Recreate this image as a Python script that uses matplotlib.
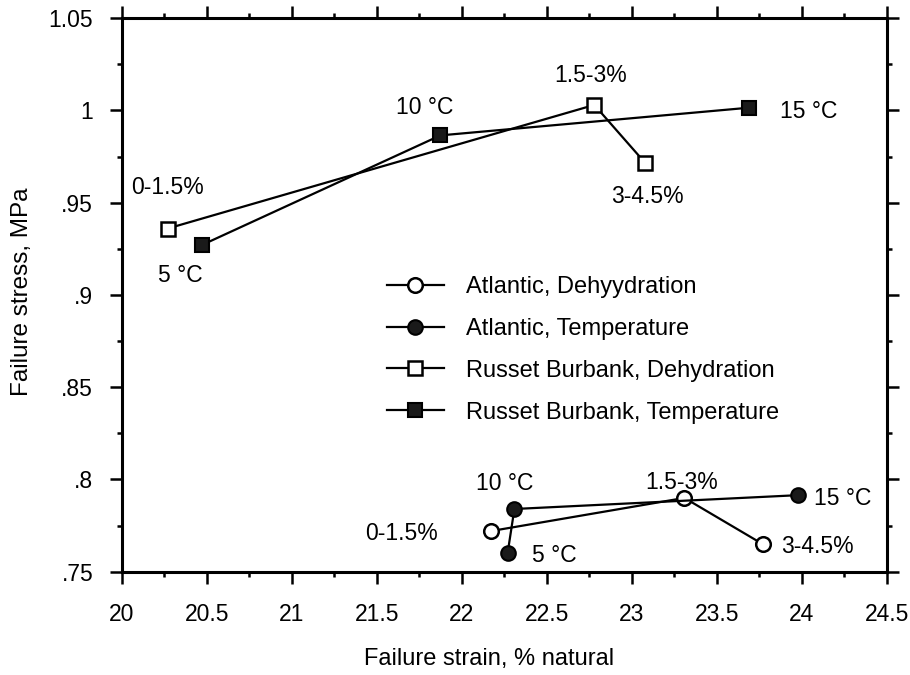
import matplotlib
matplotlib.use("Agg")
import matplotlib.pyplot as plt
from matplotlib.ticker import MultipleLocator, FuncFormatter

plt.rcParams['font.family'] = ['Liberation Sans', 'DejaVu Sans']

# Data
atl_dehy_x = [22.17, 23.31, 23.77]
atl_dehy_y = [0.772, 0.790, 0.765]
atl_dehy_lbl = ["0-1.5%", "1.5-3%", "3-4.5%"]

atl_temp_x = [22.27, 22.31, 23.98]
atl_temp_y = [0.760, 0.784, 0.7915]
atl_temp_lbl = ["5 °C", "10 °C", "15 °C"]

rb_dehy_x = [20.27, 22.78, 23.08]
rb_dehy_y = [0.936, 1.003, 0.9715]
rb_dehy_lbl = ["0-1.5%", "1.5-3%", "3-4.5%"]

rb_temp_x = [20.47, 21.875, 23.69]
rb_temp_y = [0.927, 0.9865, 1.0015]
rb_temp_lbl = ["5 °C", "10 °C", "15 °C"]

series_names = ["Atlantic, Dehyydration", "Atlantic, Temperature",
                "Russet Burbank, Dehydration", "Russet Burbank, Temperature"]

fig = plt.figure(figsize=(9.1, 6.75), dpi=100)
ax = fig.add_axes([0.1337, 0.153, 0.8407, 0.820])

lw = 1.6
ms = 10.5
ax.plot(atl_dehy_x, atl_dehy_y, '-o', color='black', lw=lw, ms=ms, mfc='white', mec='black', mew=1.8, label=series_names[0])
ax.plot(atl_temp_x, atl_temp_y, '-o', color='black', lw=lw, ms=ms, mfc='#1a1a1a', mec='black', mew=1.5, label=series_names[1])
ax.plot(rb_dehy_x, rb_dehy_y, '-s', color='black', lw=lw, ms=ms, mfc='white', mec='black', mew=1.8, label=series_names[2])
ax.plot(rb_temp_x, rb_temp_y, '-s', color='black', lw=lw, ms=ms, mfc='#1a1a1a', mec='black', mew=1.5, label=series_names[3])

fs = 16.5
# Russet Burbank labels
ax.text(20.27, 0.958, rb_dehy_lbl[0], fontsize=fs, ha='center', va='center')
ax.text(22.76, 1.0192, rb_dehy_lbl[1], fontsize=fs, ha='center', va='center')
ax.text(23.09, 0.9533, rb_dehy_lbl[2], fontsize=fs, ha='center', va='center')
ax.text(20.345, 0.9108, rb_temp_lbl[0], fontsize=fs, ha='center', va='center')
ax.text(21.78, 1.0015, rb_temp_lbl[1], fontsize=fs, ha='center', va='center')
ax.text(23.875, 0.9993, rb_temp_lbl[2], fontsize=fs, ha='left', va='center')
# Atlantic labels
ax.text(21.86, 0.7707, atl_dehy_lbl[0], fontsize=fs, ha='right', va='center')
ax.text(23.296, 0.7986, atl_dehy_lbl[1], fontsize=fs, ha='center', va='center')
ax.text(23.876, 0.7637, atl_dehy_lbl[2], fontsize=fs, ha='left', va='center')
ax.text(22.411, 0.759, atl_temp_lbl[0], fontsize=fs, ha='left', va='center')
ax.text(22.253, 0.7977, atl_temp_lbl[1], fontsize=fs, ha='center', va='center')
ax.text(24.073, 0.7897, atl_temp_lbl[2], fontsize=fs, ha='left', va='center')

ax.set_xlim(20, 24.5)
ax.set_ylim(0.75, 1.05)
ax.xaxis.set_major_locator(MultipleLocator(0.5))
ax.xaxis.set_minor_locator(MultipleLocator(0.25))
ax.yaxis.set_major_locator(MultipleLocator(0.05))
ax.yaxis.set_minor_locator(MultipleLocator(0.025))

def xfmt(v, p):
    s = f"{v:.1f}"
    return s[:-2] if s.endswith(".0") else s

def yfmt(v, p):
    s = f"{v:.2f}".rstrip('0').rstrip('.')
    if s.startswith("0."):
        s = s[1:]
    return s

ax.xaxis.set_major_formatter(FuncFormatter(xfmt))
ax.yaxis.set_major_formatter(FuncFormatter(yfmt))

ax.tick_params(which='both', direction='out', top=True, right=True,
               labeltop=False, labelright=False, width=1.8, labelsize=16.5, colors='black')
ax.tick_params(which='major', length=8.5)
ax.tick_params(which='minor', length=3.6)
ax.tick_params(axis='x', which='major', pad=14)
ax.tick_params(axis='y', which='major', pad=12)
for sp in ax.spines.values():
    sp.set_linewidth(2.2)

ax.set_xlabel("Failure strain, % natural", fontsize=17)
ax.set_ylabel("Failure stress, MPa", fontsize=17.5)
ax.xaxis.set_label_coords(0.48, -0.138)
ax.yaxis.set_label_coords(-0.1163, 0.505)

leg = ax.legend(loc='upper left', bbox_to_anchor=(387/910, 1 - 276/675),
                bbox_transform=fig.transFigure, frameon=False, fontsize=17,
                handlelength=2.4, handletextpad=0.93, labelspacing=0.84,
                borderpad=0, borderaxespad=0)

fig.savefig("out.png", dpi=100)
